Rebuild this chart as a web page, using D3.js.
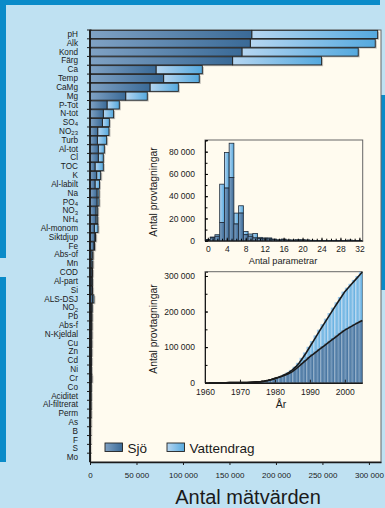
<!DOCTYPE html>
<html>
<head>
<meta charset="utf-8">
<script src="https://cdn.jsdelivr.net/npm/d3@7"></script>
<style>
  body { margin: 0; background: #bfe1f2; }
  svg { display: block; font-family: "Liberation Sans", Arial, sans-serif; }
</style>
</head>
<body>
<svg id="chart" width="385" height="508"></svg>
<script>
// huvuddiagram: antal mätvärden per parameter
const categories = ['pH', 'Alk', 'Kond', 'Färg', 'Ca', 'Temp', 'CaMg', 'Mg', 'P-Tot', 'N-tot',
  'SO4', 'NO23', 'Turb', 'Al-tot', 'Cl', 'TOC', 'K', 'Al-labilt', 'Na', 'PO4', 'NO3', 'NH4',
  'Al-monom', 'Siktdjup', 'Fe', 'Abs-of', 'Mn', 'COD', 'Al-part', 'Si', 'ALS-DSJ', 'NO2', 'Pb',
  'Abs-f', 'N-Kjeldal', 'Cu', 'Zn', 'Cd', 'Ni', 'Cr', 'Co', 'Aciditet', 'Al-filtrerat', 'Perm',
  'As', 'B', 'F', 'S', 'Mo'];
const sjo = [174000, 172400, 163400, 153400, 71000, 79200, 64500, 38400, 18300, 14300,
  13300, 8300, 7900, 8900, 8900, 5400, 7200, 5400, 7500, 7500, 6400, 6400,
  4600, 5200, 4200, 2200, 2000, 1900, 1800, 2000, 2500, 1700, 1600,
  1500, 1400, 1300, 1300, 1200, 1100, 1200, 1000, 900, 850, 800,
  650, 550, 500, 450, 350];
const vattendrag = [135400, 134400, 125100, 95700, 49800, 38300, 30500, 23200, 13200, 11100,
  7500, 12100, 10000, 6500, 5400, 8900, 4300, 4800, 2200, 2200, 1900, 1900,
  4000, 900, 800, 1000, 1000, 900, 900, 800, 1700, 700, 600,
  600, 600, 600, 500, 500, 500, 800, 400, 400, 350, 300,
  250, 250, 200, 150, 150];
const xTicks = [0, 50000, 100000, 150000, 200000, 250000, 300000];

// inset 1: antal parametrar per provtagning
const antalParametrar = [0, 1, 2, 3, 4, 5, 6, 7, 8, 9, 10, 11, 12, 13, 14, 15, 16,
  17, 18, 19, 20, 21, 22, 23, 24, 25, 26, 27, 28, 29, 30, 31, 32];
const histSjo = [800, 2500, 4000, 16400, 47300, 56800, 15000, 24800, 5400, 4000, 2500, 2000, 1500, 1500, 1000, 500, 1000,
  400, 300, 400, 400, 300, 200, 100, 100, 100, 100, 50, 50, 50, 100, 0, 0];
const histVatt = [200, 800, 1400, 34400, 31900, 30800, 9800, 6600, 2900, 2000, 4000, 1000, 1000, 1000, 500, 300, 500,
  300, 400, 500, 500, 400, 200, 100, 100, 100, 100, 50, 50, 50, 500, 100, 100];
const histYTicks = [0, 20000, 40000, 60000, 80000];
const histXTicks = [0, 4, 8, 12, 16, 20, 24, 28, 32];

// inset 2: kumulativt antal provtagningar per år
const years = [1960, 1961, 1962, 1963, 1964, 1965, 1966, 1967, 1968, 1969,
  1970, 1971, 1972, 1973, 1974, 1975, 1976, 1977, 1978, 1979,
  1980, 1981, 1982, 1983, 1984, 1985, 1986, 1987, 1988, 1989,
  1990, 1991, 1992, 1993, 1994, 1995, 1996, 1997, 1998, 1999,
  2000, 2001, 2002, 2003, 2004];
const cumSjo = [0, 0, 0, 0, 0, 0, 100, 150, 250, 350,
  500, 700, 1000, 1500, 2200, 3100, 4500, 6300, 8700, 11500,
  14500, 17800, 21500, 26000, 31000, 38500, 47000, 55500, 64000, 73000,
  80500, 88000, 95500, 103000, 110700, 118000, 125500, 133000, 140500, 148000,
  153500, 159000, 164500, 170000, 175000];
const cumTotal = [0, 0, 0, 0, 0, 0, 100, 150, 250, 350,
  500, 700, 1000, 1500, 2200, 3100, 4600, 6500, 9000, 12500,
  15500, 19000, 23500, 29000, 36000, 45000, 56000, 70000, 85000, 101000,
  117000, 133000, 149000, 164500, 180000, 195500, 211000, 226000, 241000, 256000,
  267000, 278000, 289000, 300000, 311000];
const yearTicks = [1960, 1970, 1980, 1990, 2000];
const cumYTicks = [0, 100000, 200000, 300000];

const fmt = d => d3.format(',')(d).replace(/,/g, ' ');
const ink = '#1a1a1a';
const cream = '#fffbef';
const frameBlue = '#0a8bc9';

const svg = d3.select('#chart');

// bakgrund och ram
svg.append('rect').attr('width', 385).attr('height', 508).attr('fill', '#bfe1f2');
svg.append('rect').attr('x', 0).attr('y', 0).attr('width', 380).attr('height', 5).attr('fill', frameBlue);
svg.append('rect').attr('x', 0).attr('y', 0).attr('width', 6).attr('height', 258).attr('fill', frameBlue);
svg.append('rect').attr('x', 0).attr('y', 277).attr('width', 6).attr('height', 185).attr('fill', frameBlue);
svg.append('rect').attr('x', 380.5).attr('y', 95).attr('width', 4.5).attr('height', 195).attr('fill', frameBlue);

const defs = svg.append('defs');
function gradient(id, from, to) {
  const g = defs.append('linearGradient').attr('id', id)
    .attr('x1', 0).attr('x2', 1).attr('y1', 0).attr('y2', 0);
  g.append('stop').attr('offset', '0%').attr('stop-color', from);
  g.append('stop').attr('offset', '100%').attr('stop-color', to);
}
gradient('gSjo', '#80a2c4', '#3a6a97');
gradient('gVatt', '#b6d6f1', '#55a9de');

// ---- huvuddiagram ----
const plotLeft = 90, plotRight = 381, plotTop = 30, plotBottom = 462;

const x = d3.scaleLinear().domain([0, 313000]).range([plotLeft, plotRight]);
const y = d3.scaleBand().domain(categories).range([plotTop, plotBottom]).paddingInner(0.08).paddingOuter(0.04);

svg.append('rect')
  .attr('x', plotLeft).attr('y', plotTop)
  .attr('width', plotRight - plotLeft).attr('height', plotBottom - plotTop)
  .attr('fill', cream).attr('stroke', '#666').attr('stroke-width', 1);

const rows = categories.map((c, i) => ({ c, s: sjo[i], v: vattendrag[i] }));

const bars = svg.append('g');
bars.selectAll('.shadow')
  .data(rows)
  .enter().append('rect')
    .attr('class', 'shadow')
    .attr('x', x(0) + 1.5)
    .attr('y', d => y(d.c) + 1.3)
    .attr('width', d => x(d.s + d.v) - x(0))
    .attr('height', y.bandwidth())
    .attr('fill', '#8a8a8a')
    .attr('opacity', 0.55);

bars.selectAll('.vatt')
  .data(rows)
  .enter().append('rect')
    .attr('class', 'vatt')
    .attr('x', d => x(d.s))
    .attr('y', d => y(d.c))
    .attr('width', d => x(d.s + d.v) - x(d.s))
    .attr('height', y.bandwidth())
    .attr('fill', 'url(#gVatt)')
    .attr('stroke', '#222')
    .attr('stroke-width', 0.9);

bars.selectAll('.sjo')
  .data(rows)
  .enter().append('rect')
    .attr('class', 'sjo')
    .attr('x', x(0))
    .attr('y', d => y(d.c))
    .attr('width', d => x(d.s) - x(0))
    .attr('height', y.bandwidth())
    .attr('fill', 'url(#gSjo)')
    .attr('stroke', '#222')
    .attr('stroke-width', 0.9);

// y-axel med etiketter (index nedsänkta)
const yAxis = svg.append('g')
  .attr('transform', `translate(${plotLeft}, 0)`)
  .call(d3.axisLeft(y).tickSize(0).tickPadding(12));
yAxis.select('.domain').remove();
yAxis.selectAll('text')
  .attr('font-size', 8.2)
  .attr('fill', ink)
  .each(function (d) {
    const m = /^([A-Z][A-Za-z]*)(\d+)$/.exec(d);
    if (!m) return;
    const t = d3.select(this).text(null);
    t.append('tspan').text(m[1]);
    t.append('tspan').attr('font-size', 6).attr('dy', '0.2em').text(m[2]);
  });

const bandStep = y.step();
svg.append('g').selectAll('line')
  .data(categories)
  .enter().append('line')
    .attr('x1', plotLeft - 3).attr('x2', plotLeft + 1.5)
    .attr('y1', d => y(d) - bandStep * 0.04)
    .attr('y2', d => y(d) - bandStep * 0.04)
    .attr('stroke', ink).attr('stroke-width', 1);

svg.append('line')
  .attr('x1', plotLeft).attr('x2', plotLeft)
  .attr('y1', plotTop).attr('y2', plotBottom)
  .attr('stroke', ink).attr('stroke-width', 1.8);

const xAxis = svg.append('g')
  .attr('transform', `translate(0, ${plotBottom})`)
  .call(d3.axisBottom(x).tickValues(xTicks).tickFormat(fmt).tickSize(3).tickPadding(7).tickSizeOuter(0));
xAxis.select('.domain').attr('stroke', ink).attr('stroke-width', 1.6);
xAxis.selectAll('line').attr('stroke', ink);
xAxis.selectAll('text').attr('font-size', 8).attr('fill', ink);

svg.append('text')
  .attr('x', 248).attr('y', 504)
  .attr('text-anchor', 'middle')
  .attr('font-size', 20)
  .attr('fill', ink)
  .text('Antal mätvärden');

// teckenförklaring
const legend = [
  { label: 'Sjö', fill: 'url(#gSjo)', x: 105 },
  { label: 'Vattendrag', fill: 'url(#gVatt)', x: 167 }
];
const lg = svg.append('g').selectAll('g').data(legend).enter().append('g');
lg.append('rect')
  .attr('x', d => d.x).attr('y', 443)
  .attr('width', 17.5).attr('height', 8.5)
  .attr('fill', d => d.fill)
  .attr('stroke', '#222').attr('stroke-width', 0.9);
lg.append('text')
  .attr('x', d => d.x + 22.5).attr('y', 452.5)
  .attr('font-size', 13.5)
  .attr('fill', ink)
  .text(d => d.label);

// ---- inset 1: histogram ----
const h = { l: 205, r: 362.7, t: 140, b: 240.7 };
const hx = d3.scaleLinear().domain([-0.6, 32.7]).range([h.l, h.r]);
const hy = d3.scaleLinear().domain([0, 90500]).range([h.b, h.t]);

svg.append('rect')
  .attr('x', h.l).attr('y', h.t).attr('width', h.r - h.l).attr('height', h.b - h.t)
  .attr('fill', cream).attr('stroke', '#666').attr('stroke-width', 1);

const hist = antalParametrar.map((n, i) => ({ n, s: histSjo[i], v: histVatt[i] }));
const hg = svg.append('g');
hg.selectAll('.hv')
  .data(hist.filter(d => d.v > 0))
  .enter().append('rect')
    .attr('x', d => hx(d.n - 0.5))
    .attr('width', d => hx(d.n + 0.5) - hx(d.n - 0.5))
    .attr('y', d => hy(d.s + d.v))
    .attr('height', d => hy(d.s) - hy(d.s + d.v))
    .attr('fill', 'url(#gVatt)')
    .attr('stroke', '#1e2a38').attr('stroke-width', 0.8);
hg.selectAll('.hs')
  .data(hist.filter(d => d.s > 0))
  .enter().append('rect')
    .attr('x', d => hx(d.n - 0.5))
    .attr('width', d => hx(d.n + 0.5) - hx(d.n - 0.5))
    .attr('y', d => hy(d.s))
    .attr('height', d => hy(0) - hy(d.s))
    .attr('fill', 'url(#gSjo)')
    .attr('stroke', '#1e2a38').attr('stroke-width', 0.8);

const hyAxis = svg.append('g')
  .attr('transform', `translate(${h.l}, 0)`)
  .call(d3.axisLeft(hy).tickValues(histYTicks).tickFormat(fmt).tickSize(-3).tickPadding(10));
hyAxis.select('.domain').attr('stroke', ink);
svg.append('g')
  .attr('transform', `translate(${h.l}, 0)`)
  .call(d3.axisLeft(hy).ticks(9).tickFormat('').tickSize(-2.5))
  .select('.domain').remove();

const hxAxis = svg.append('g')
  .attr('transform', `translate(0, ${h.b})`)
  .call(d3.axisBottom(hx).tickValues(histXTicks).tickSize(-3).tickPadding(5.5).tickSizeOuter(0));
hxAxis.select('.domain').attr('stroke', ink);
svg.append('g')
  .attr('transform', `translate(0, ${h.b})`)
  .call(d3.axisBottom(hx).tickValues(antalParametrar).tickFormat('').tickSize(-2))
  .select('.domain').remove();

svg.append('text')
  .attr('x', 283).attr('y', 263.5)
  .attr('text-anchor', 'middle').attr('font-size', 9.2).attr('fill', ink)
  .text('Antal parametrar');
svg.append('text')
  .attr('transform', 'translate(156.5, 192) rotate(-90)')
  .attr('text-anchor', 'middle').attr('font-size', 10.3).attr('fill', ink)
  .text('Antal provtagningar');

// ---- inset 2: kumulativt över år ----
const a = { l: 205, r: 362.3, t: 271.7, b: 382.7 };
const ax = d3.scaleLinear().domain([1960, 2005]).range([a.l, a.r]);
const ay = d3.scaleLinear().domain([0, 312000]).range([a.b, a.t]);

svg.append('rect')
  .attr('x', a.l).attr('y', a.t).attr('width', a.r - a.l).attr('height', a.b - a.t)
  .attr('fill', cream).attr('stroke', '#666').attr('stroke-width', 1);

const cum = years.map((yr, i) => ({ yr, s: cumSjo[i], t: cumTotal[i] }));
const ag = svg.append('g');
ag.selectAll('.av')
  .data(cum.filter(d => d.t > d.s))
  .enter().append('rect')
    .attr('x', d => ax(d.yr))
    .attr('width', d => ax(d.yr + 1) - ax(d.yr))
    .attr('y', d => ay(d.t))
    .attr('height', d => ay(d.s) - ay(d.t))
    .attr('fill', 'url(#gVatt)');
ag.selectAll('.as')
  .data(cum.filter(d => d.s > 0))
  .enter().append('rect')
    .attr('x', d => ax(d.yr))
    .attr('width', d => ax(d.yr + 1) - ax(d.yr))
    .attr('y', d => ay(d.s))
    .attr('height', d => ay(0) - ay(d.s))
    .attr('fill', 'url(#gSjo)');

const line = key => d3.line().x(d => ax(d.yr + 1)).y(d => ay(d[key]));
ag.append('path').datum(cum).attr('d', line('t'))
  .attr('fill', 'none').attr('stroke', ink).attr('stroke-width', 1.6);
ag.append('path').datum(cum).attr('d', line('s'))
  .attr('fill', 'none').attr('stroke', ink).attr('stroke-width', 1.6);

const ayAxis = svg.append('g')
  .attr('transform', `translate(${a.l}, 0)`)
  .call(d3.axisLeft(ay).tickValues(cumYTicks).tickFormat(fmt).tickSize(-3).tickPadding(10));
ayAxis.select('.domain').attr('stroke', ink);
svg.append('g')
  .attr('transform', `translate(${a.l}, 0)`)
  .call(d3.axisLeft(ay).ticks(6).tickFormat('').tickSize(-2.5))
  .select('.domain').remove();

const axAxis = svg.append('g')
  .attr('transform', `translate(0, ${a.b})`)
  .call(d3.axisBottom(ax).tickValues(yearTicks).tickFormat(d3.format('d')).tickSize(-3).tickPadding(6).tickSizeOuter(0));
axAxis.select('.domain').attr('stroke', ink).attr('stroke-width', 1.4);

svg.append('text')
  .attr('x', 281).attr('y', 407.5)
  .attr('text-anchor', 'middle').attr('font-size', 10.5).attr('fill', ink)
  .text('År');
svg.append('text')
  .attr('transform', 'translate(156.5, 329) rotate(-90)')
  .attr('text-anchor', 'middle').attr('font-size', 10.3).attr('fill', ink)
  .text('Antal provtagningar');

// gemensam stil för insetaxlarnas texter
[hyAxis, hxAxis, ayAxis, axAxis].forEach(g => {
  g.selectAll('text').attr('font-size', 8.5).attr('fill', ink);
  g.selectAll('line').attr('stroke', ink);
});
</script>
</body>
</html>
